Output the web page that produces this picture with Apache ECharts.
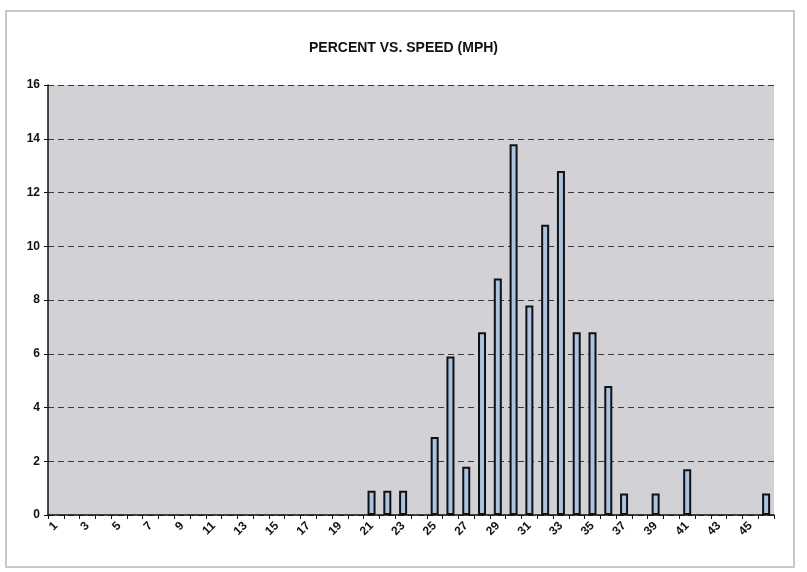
<!DOCTYPE html>
<html>
<head>
<meta charset="utf-8">
<script src="https://cdn.jsdelivr.net/npm/echarts@6/dist/echarts.min.js"></script>
<style>
html,body{margin:0;padding:0;background:#fff;}
#c{width:807px;height:572px;}
</style>
</head>
<body>
<div id="c"></div>
<script>
const titleText = "PERCENT VS. SPEED (MPH)";
const speeds = ["1","2","3","4","5","6","7","8","9","10","11","12","13","14","15","16","17","18","19","20","21","22","23","24","25","26","27","28","29","30","31","32","33","34","35","36","37","38","39","40","41","42","43","44","45","46"];
const percents = [0,0,0,0,0,0,0,0,0,0,0,0,0,0,0,0,0,0,0,0,0.9,0.9,0.9,0,2.9,5.9,1.8,6.8,8.8,13.8,7.8,10.8,12.8,6.8,6.8,4.8,0.8,0,0.8,0,1.7,0,0,0,0,0.8];
const yTicks = [0,2,4,6,8,10,12,14,16];

const font = "'Liberation Sans',Arial,sans-serif";
const chart = echarts.init(document.getElementById('c'), null, {renderer:'canvas'});
chart.setOption({
  animation:false,
  backgroundColor:'#ffffff',
  graphic:[{
    type:'rect', left:5, top:10, z:-10,
    shape:{width:788, height:556},
    style:{fill:'#ffffff', stroke:'#c8c8c8', lineWidth:2}
  }],
  title:{
    text:titleText, left:'center', top:36,
    textStyle:{fontFamily:font, fontSize:14, fontWeight:'bold', color:'#111'}
  },
  grid:{left:48, right:33, top:85, bottom:57, show:true, backgroundColor:'#d1d1d6', borderWidth:0},
  xAxis:{
    type:'category', data:speeds, boundaryGap:true,
    axisLine:{lineStyle:{color:'#111', width:1.5}},
    axisTick:{show:true, interval:0, length:4, lineStyle:{color:'#111'}},
    axisLabel:{interval:1, rotate:45, fontFamily:font, fontSize:12, fontWeight:'bold', color:'#111', margin:9},
    splitLine:{show:false}
  },
  yAxis:{
    type:'value', min:yTicks[0], max:yTicks[yTicks.length-1], interval:2,
    axisLine:{show:true, lineStyle:{color:'#111', width:1.5}},
    axisTick:{show:true, length:4, lineStyle:{color:'#111'}},
    axisLabel:{fontFamily:font, fontSize:12, fontWeight:'bold', color:'#111', margin:8},
    splitLine:{show:true, lineStyle:{color:'#3a3a3a', type:[6,4], width:1}}
  },
  series:[{
    type:'bar',
    data:percents.map(v => v === 0 ? null : v),
    barWidth:8,
    itemStyle:{color:'#a9c4e2', borderColor:'#111', borderWidth:2}
  }]
});
</script>
</body>
</html>
